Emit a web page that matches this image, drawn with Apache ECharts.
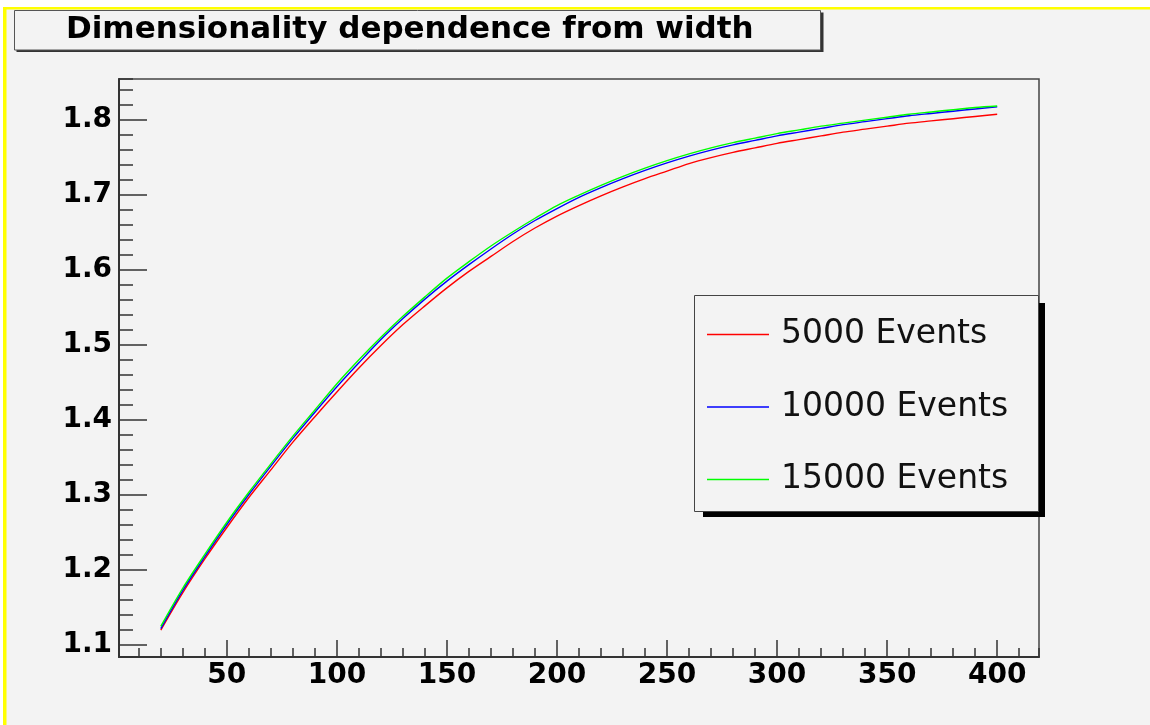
<!DOCTYPE html>
<html>
<head>
<meta charset="utf-8">
<script src="https://cdn.jsdelivr.net/npm/echarts@6/dist/echarts.min.js"></script>
<style>
  html, body { margin: 0; padding: 0; background: #ffffff; }
  #chart { width: 1150px; height: 725px; }
</style>
</head>
<body>
<div id="chart"></div>
<script>
const titleText = 'Dimensionality dependence from width';
const seriesNames = ['5000 Events', '10000 Events', '15000 Events'];
const widths = [20, 30, 40, 50, 60, 70, 80, 90, 100, 110, 120, 130, 140, 150, 160, 170, 180, 190, 200,
  210, 220, 230, 240, 250, 260, 270, 280, 290, 300, 310, 320, 330, 340, 350, 360, 370, 380, 390, 400];
const events5000 = [1.119, 1.169, 1.214, 1.256, 1.296, 1.333, 1.370, 1.404, 1.437, 1.469, 1.499, 1.527, 1.552,
  1.576, 1.598, 1.618, 1.638, 1.656, 1.672, 1.686, 1.699, 1.711, 1.722, 1.732, 1.742, 1.750, 1.757, 1.763,
  1.769, 1.774, 1.779, 1.784, 1.788, 1.792, 1.796, 1.799, 1.802, 1.805, 1.808];
const events10000 = [1.121, 1.172, 1.217, 1.260, 1.300, 1.338, 1.375, 1.410, 1.444, 1.476, 1.507, 1.535, 1.561,
  1.585, 1.607, 1.628, 1.648, 1.666, 1.682, 1.697, 1.710, 1.722, 1.733, 1.743, 1.752, 1.760, 1.767, 1.773,
  1.779, 1.784, 1.789, 1.794, 1.798, 1.802, 1.806, 1.809, 1.812, 1.815, 1.818];
const events15000 = [1.124, 1.175, 1.220, 1.263, 1.303, 1.341, 1.378, 1.413, 1.448, 1.480, 1.510, 1.538, 1.564,
  1.589, 1.611, 1.632, 1.651, 1.669, 1.686, 1.700, 1.713, 1.725, 1.736, 1.746, 1.755, 1.763, 1.770, 1.776,
  1.782, 1.787, 1.792, 1.796, 1.800, 1.804, 1.808, 1.811, 1.814, 1.817, 1.819];
const seriesColors = ['#ff0000', '#0000ff', '#00ff00'];
const xRange = [1, 419];
const yRange = [1.083, 1.855];

const allSeries = [events5000, events10000, events15000];

const chart = echarts.init(document.getElementById('chart'), null, { renderer: 'canvas' });

function pairs(ys) { return widths.map((w, i) => [w, ys[i]]); }

const labelFont = { fontFamily: 'DejaVu Sans', fontWeight: 'bold', fontSize: 28, color: '#000' };

const option = {
  animation: false,
  backgroundColor: '#f3f3f3',
  graphic: [
    { type: 'rect', z: -10, silent: true, shape: { x: 0, y: 0, width: 1150, height: 7 }, style: { fill: '#ffffff' } },
    { type: 'rect', z: -10, silent: true, shape: { x: 0, y: 0, width: 3, height: 725 }, style: { fill: '#ffffff' } },
    { type: 'rect', z: -9, silent: true, shape: { x: 3, y: 7, width: 1147, height: 2.5 }, style: { fill: '#ffff00' } },
    { type: 'rect', z: -9, silent: true, shape: { x: 3, y: 7, width: 3.5, height: 718 }, style: { fill: '#ffff00' } },
    // title box
    { type: 'rect', z: 1, silent: true, shape: { x: 16.5, y: 12.5, width: 807, height: 39.5 }, style: { fill: '#333' } },
    { type: 'rect', z: 2, silent: true, shape: { x: 14.5, y: 10.5, width: 806, height: 39.5 }, style: { fill: '#f3f3f3', stroke: '#555', lineWidth: 1 } },
    // legend box
    { type: 'rect', z: 1, silent: true, shape: { x: 703, y: 303, width: 342, height: 214 }, style: { fill: '#000' } },
    { type: 'rect', z: 2, silent: true, shape: { x: 694.5, y: 295.5, width: 344, height: 216 }, style: { fill: '#f3f3f3', stroke: '#444', lineWidth: 1 } }
  ],
  title: {
    text: titleText,
    left: 66,
    top: 13,
    padding: 0,
    z: 10,
    textStyle: { fontFamily: 'DejaVu Sans', fontWeight: 'bold', fontSize: 31, color: '#000', lineHeight: 33 }
  },
  legend: {
    orient: 'vertical',
    left: 694,
    top: 295,
    padding: [21.5, 10, 17, 13],
    itemGap: 36.5,
    itemWidth: 62,
    itemHeight: 1.5,
    icon: 'rect',
    z: 10,
    data: seriesNames,
    textStyle: { fontFamily: 'DejaVu Sans', fontSize: 33, color: '#111', lineHeight: 36, padding: [0, 0, 0, 7] }
  },
  grid: {
    left: 119, top: 79, right: 111, bottom: 68,
    show: true, borderColor: '#444', borderWidth: 1.5, backgroundColor: 'transparent'
  },
  xAxis: [
    {
      type: 'value', min: xRange[0], max: xRange[1], position: 'bottom',
      splitNumber: 8, minInterval: 50, maxInterval: 50,
      axisLine: { show: true, lineStyle: { color: '#333', width: 2 } },
      axisTick: { show: true, inside: true, length: 17, lineStyle: { color: '#333', width: 1.5 } },
      splitLine: { show: false },
      axisLabel: {
        ...labelFont, margin: 5, showMinLabel: false, showMaxLabel: false,
        formatter: v => (Math.abs(v % 50) < 1e-6 ? String(v) : '')
      }
    },
    {
      type: 'value', min: xRange[0], max: xRange[1], position: 'bottom', offset: 0,
      splitNumber: 42, minInterval: 10, maxInterval: 10,
      axisLine: { show: false },
      axisTick: { show: true, inside: true, length: 9, lineStyle: { color: '#333', width: 1.5 } },
      splitLine: { show: false },
      axisLabel: { show: false }
    }
  ],
  yAxis: [
    {
      type: 'value', min: yRange[0], max: yRange[1], position: 'left',
      splitNumber: 8, minInterval: 0.1, maxInterval: 0.1,
      axisLine: { show: true, lineStyle: { color: '#333', width: 2 } },
      axisTick: { show: true, inside: true, length: 28, lineStyle: { color: '#333', width: 1.5 } },
      splitLine: { show: false },
      axisLabel: {
        ...labelFont, margin: 7, showMinLabel: false, showMaxLabel: false,
        formatter: v => {
          const t = v * 10;
          return Math.abs(t - Math.round(t)) < 1e-6 ? v.toFixed(1) : '';
        }
      }
    },
    {
      type: 'value', min: yRange[0], max: yRange[1], position: 'left', offset: 0,
      splitNumber: 38, minInterval: 0.02, maxInterval: 0.02,
      axisLine: { show: false },
      axisTick: { show: true, inside: true, length: 14, lineStyle: { color: '#333', width: 1.5 } },
      splitLine: { show: false },
      axisLabel: { show: false }
    }
  ],
  series: seriesNames.map((name, i) => ({
    name,
    type: 'line',
    xAxisIndex: 0,
    yAxisIndex: 0,
    data: pairs(allSeries[i]),
    showSymbol: false,
    smooth: 0.3,
    color: seriesColors[i],
    lineStyle: { color: seriesColors[i], width: 1.4 },
    z: 3 + i
  }))
};

chart.setOption(option);
</script>
</body>
</html>
